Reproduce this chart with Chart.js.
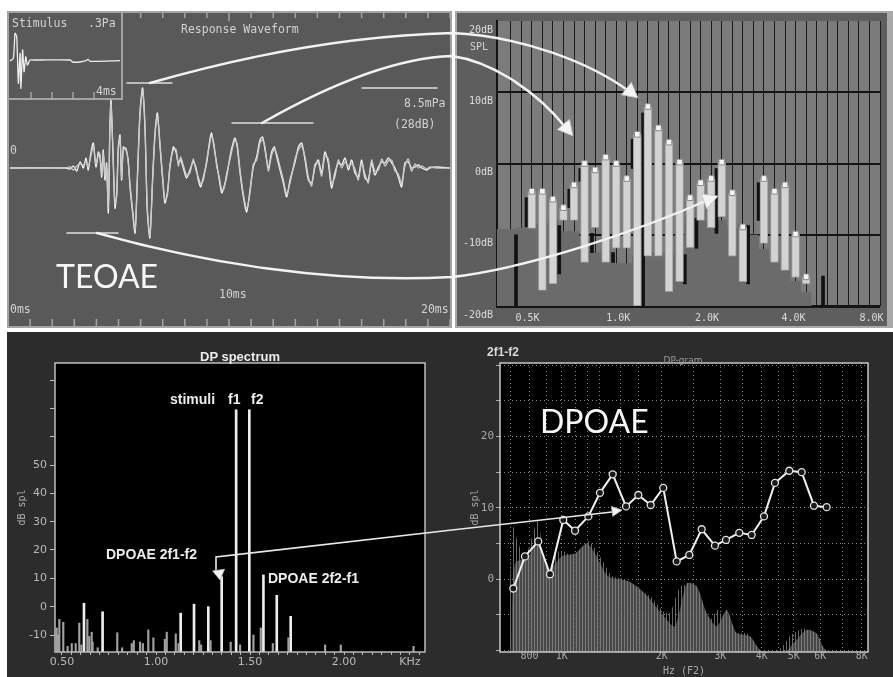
<!DOCTYPE html>
<html>
<head>
<meta charset="utf-8">
<title>TEOAE / DPOAE</title>
<script src="https://cdn.jsdelivr.net/npm/chart.js@4.4.1/dist/chart.umd.min.js"></script>
<style>
  html, body { margin: 0; padding: 0; background: #fff; }
  #page { position: relative; width: 893px; height: 677px; overflow: hidden; background: #fff; }
  .panel { position: absolute; }
  .panel canvas { position: absolute; left: 0; top: 0; }
  .frame { position: absolute; left: 0; top: 0; right: 0; bottom: 0; box-sizing: border-box; pointer-events: none; }
  .lbl { position: absolute; white-space: nowrap; line-height: 1; transform: translate(0, -50%); }
  .ctr { transform: translate(-50%, -50%); }
  .mono { font-family: "DejaVu Sans Mono", monospace; font-size: 11.5px; color: #d2d2d2; }
  .big { font-family: Lato, "Open Sans", sans-serif; font-size: 32px; color: #f6f6f6; }
  .bold { font-family: "Liberation Sans", Arial, sans-serif; font-weight: bold; font-size: 14px; color: #ececec; }
  #overlay { position: absolute; left: 0; top: 0; pointer-events: none; }
</style>
</head>
<body>
<div id="page">
  <!-- top left: TEOAE waveform -->
  <div class="panel" style="left:7px;top:11px;width:445px;height:317px;background:#595959;">
    <canvas id="waveChart" width="445" height="317"></canvas>
    <div class="frame" style="border:2px solid #a4a4a4;"></div>
  </div>
  <div class="panel" style="left:7px;top:11px;width:116px;height:89px;background:#595959;">
    <canvas id="stimChart" width="116" height="89"></canvas>
    <div class="frame" style="border:2px solid #a4a4a4;"></div>
  </div>
  <div class="lbl mono" style="left:12px;top:24px;">Stimulus</div>
  <div class="lbl mono" style="left:88px;top:24px;">.3Pa</div>
  <div class="lbl mono" style="left:96px;top:92px;">4ms</div>
  <div class="lbl mono" style="left:181px;top:30px;">Response Waveform</div>
  <div class="lbl mono" style="left:404px;top:104px;">8.5mPa</div>
  <div class="lbl mono" style="left:394px;top:125px;">(28dB)</div>
  <div class="lbl mono" style="left:10px;top:151px;">0</div>
  <div class="lbl mono" style="left:10px;top:310px;">0ms</div>
  <div class="lbl mono" style="left:219px;top:295px;">10ms</div>
  <div class="lbl mono" style="left:421px;top:310px;">20ms</div>
  <div class="lbl big" style="left:56px;top:276px;">TEOAE</div>

  <!-- top right: band spectrum -->
  <div class="panel" style="left:455px;top:11px;width:438px;height:317px;background:#5e5e5e;">
    <canvas id="bandChart" width="438" height="317"></canvas>
    <div class="frame" style="border:2px solid #a8a8a8;border-right-width:6px;"></div>
  </div>
  <div class="lbl mono" style="left:470px;top:47px;font-size:10px;">SPL</div>

  <!-- bottom row -->
  <div class="panel" style="left:7px;top:332px;width:886px;height:345px;background:#2c2c2c;"></div>
  <div class="panel" style="left:7px;top:333px;width:443px;height:344px;">
    <canvas id="spectrumChart" width="443" height="344"></canvas>
  </div>
  <div class="panel" style="left:450px;top:333px;width:443px;height:344px;">
    <canvas id="gramChart" width="443" height="344"></canvas>
  </div>
  <div class="lbl bold ctr" style="left:240px;top:356px;font-size:13px;">DP spectrum</div>
  <div class="lbl bold" style="left:170px;top:399px;">stimuli</div>
  <div class="lbl bold" style="left:228px;top:399px;">f1</div>
  <div class="lbl bold" style="left:251px;top:399px;">f2</div>
  <div class="lbl bold" style="left:106px;top:554px;">DPOAE 2f1-f2</div>
  <div class="lbl bold" style="left:268px;top:578px;">DPOAE 2f2-f1</div>
  <div class="lbl bold" style="left:487px;top:352px;font-size:12px;color:#d8d8d8;">2f1-f2</div>
  <div class="lbl ctr" style="left:683px;top:360px;font-family:'DejaVu Sans',sans-serif;font-size:9px;color:#9a9a9a;">DP-gram</div>
  <div class="lbl big" style="left:540px;top:421px;">DPOAE</div>

  <svg id="overlay" width="893" height="677"></svg>
</div>

<script>
// ---------- TEOAE response waveform (ms, relative amplitude), buffers A and B ----------
const waveTimes = [0.1, 2.6, 2.80, 2.96, 3.11, 3.26, 3.41, 3.53, 3.63, 3.74,
  3.86, 3.98, 4.09, 4.16, 4.24, 4.31, 4.39, 4.46, 4.54, 4.61,
  4.66, 4.74, 4.84, 4.92, 4.99, 5.07, 5.14, 5.22, 5.34, 5.44,
  5.52, 5.64, 5.75, 5.85, 5.97, 6.09, 6.20, 6.30, 6.42, 6.54,
  6.65, 6.76, 6.88, 7.00, 7.10, 7.21, 7.33, 7.48, 7.60, 7.71,
  7.81, 7.93, 8.08, 8.23, 8.38, 8.50, 8.61, 8.72, 8.84, 8.99,
  9.11, 9.21, 9.32, 9.44, 9.56, 9.67, 9.77, 9.89, 10.04, 10.16,
  10.27, 10.37, 10.50, 10.65, 10.80, 10.95, 11.10, 11.25, 11.40, 11.52,
  11.63, 11.78, 11.93, 12.05, 12.16, 12.31, 12.46, 12.61, 12.76, 12.99,
  13.14, 13.29, 13.44, 13.59, 13.74, 13.89, 14.04, 14.19, 14.34, 14.49,
  14.64, 14.79, 14.95, 15.10, 15.25, 15.40, 15.55, 15.70, 15.85, 16.00,
  16.15, 16.30, 16.45, 16.60, 16.76, 16.91, 17.06, 17.21, 17.36, 17.51,
  17.66, 17.81, 17.96, 18.11, 18.26, 18.41, 18.57, 18.72, 18.94, 19.09,
  19.39, 20.0];
const waveA = [0, 0, -1, 2, -3, 6, 0, 10, -2, 14,
  25, 1, 16, 11, -9, 18, -12, 5, -45, 41,
  68, 21, -40, -25, 21, 33, -12, 21, 18, 8,
  -19, -45, -65, -12, 55, 80, 38, -42, -70, -12,
  35, 55, 21, -12, -35, -25, 1, 21, 16, 5,
  8, 0, -10, -2, 6, 1, -12, -19, -9, 5,
  25, 35, 21, 5, -12, -25, -19, -9, 11, 23,
  30, 21, -5, -29, -44, -22, 1, 11, 28, 31,
  18, 0, 16, 21, 11, -2, -15, -29, -12, 6,
  21, 25, 8, -12, -15, 1, 8, -5, 16, 5,
  -20, -5, 5, 3, 10, -2, 8, -5, -9, 8,
  -10, -12, 5, -7, 1, 6, 5, 10, 5, 0,
  -9, -19, 5, 6, 0, 1, 3, 0, -2, 0,
  1, 0];
const waveB = [0, 0, 1, -2, 2, 4, 3, 7, 1, 11,
  22, 4, 13, 14, -6, 15, -8, 2, -40, 38,
  64, 24, -36, -28, 18, 30, -9, 18, 20, 5,
  -16, -42, -62, -15, 52, 77, 41, -38, -68, -15,
  32, 52, 24, -9, -32, -28, 4, 18, 19, 2,
  11, 3, -7, -5, 9, -2, -9, -16, -12, 8,
  22, 32, 24, 2, -9, -22, -21, -6, 8, 20,
  28, 24, -2, -26, -40, -25, 4, 8, 25, 28,
  21, -3, 13, 18, 14, 1, -12, -26, -15, 9,
  18, 22, 11, -9, -18, 4, 5, -8, 12, 9,
  -16, -9, 8, 0, 6, 2, 4, -1, -12, 5,
  -6, -15, 8, -3, -2, 9, 2, 7, 8, -3,
  -6, -15, 2, 9, -3, 4, 0, 2, -1, 1,
  0, 0];
const msTicks = [0, 1, 2, 3, 4, 5, 6, 7, 8, 9, 10, 11, 12, 13, 14, 15, 16, 17, 18, 19, 20];

// ---------- stimulus click ----------
const stimTimes = [0, 0.16, 0.24, 0.32, 0.40, 0.48, 0.52, 0.60, 0.67, 0.75, 0.83, 0.95, 1.11, 1.43, 2.86, 2.98, 3.33, 3.62, 3.71, 3.81, 5.24];
const stimValues = [0, 2.7, 27.7, 24.3, -22.3, 7.7, -27.3, 11, -10.7, 4.3, -4, 1, 1, 1, 1, -1, -1, 0.3, 1.7, -0.3, 0.3];
const stimTicks = [1, 2, 3, 4];

// ---------- TEOAE band spectrum (bin index, dB SPL) ----------
const bandBins = [3, 4, 5, 6, 7, 8, 9, 10, 11, 12, 13, 14, 15, 16, 17, 18, 19, 20, 21, 22, 23, 25, 26, 27, 28, 29];
const bandTop = [-3.9, -3.9, -5.0, -6.2, -3.0, 0, -0.9, 0.9, 0, -2.1, 4.1, 8.0, 5.0, 3.0, 0.2, -4.8, -2.7, -2.1, 0.2, -4.1, -8.9, -2.1, -3.9, -3.0, -9.9, -15.9];
const bandLow = [-9.1, -17.8, -16.9, -8.0, -8.0, -13.9, -9.0, -13.9, -11.9, -11.9, -20, -13.0, -13.0, -18.0, -16.6, -11.8, -8.0, -9.0, -7.5, -13.0, -16.6, -11.2, -13.9, -15.0, -16.0, -16.9];
const blackBins = [1.5, 2.5, 5.6, 6.55, 7.6, 8.7, 10.7, 12.55, 13.55, 17.5, 18.6, 20.5, 23.5, 24.5, 30.6];
const blackLow = [-20, -8.9, -15.5, -6.2, -2.5, -12.5, -13.9, -0.7, -20, -16.9, -11.9, -9.8, -16.9, -8.0, -20];
const blackHigh = [-10, -4.8, -8.7, -3.6, -0.7, -9.8, -12.5, 3.4, 7.1, -12.8, -7.7, -0.7, -8.7, -2.7, -15.8];
const noiseEdges = [-0.3, 1.5, 2.5, 4.5, 5.5, 7.5, 8.5, 9.5, 10.5, 12.5, 13.5, 16.5, 17.5, 18.5, 19.5, 21.5, 22.5, 23.5, 24.5, 25.5, 26.5, 27.5, 28.5, 29.5, 30.6, 36];
const noiseLevels = [-10, -9.2, -9, -8.5, -8, -9.5, -10.5, -12.5, -12, -14, -13, -12.5, -10, -7.5, -6.5, -8, -9, -8.5, -10, -12, -13.5, -15, -16.5, -18, -20, -20];
const bandTickPos = [2.6, 11.2, 19.6, 27.8, 35.2];
const bandTickLabels = ['0.5K', '1.0K', '2.0K', '4.0K', '8.0K'];

// ---------- DP spectrum (kHz, dB spl) ----------
const spFloor = -16;
const spSignalFreq = [0.617, 0.716, 1.131, 1.202, 1.278, 1.349, 1.426, 1.496, 1.571, 1.642, 1.716];
const spSignalLevel = [1.2, -1.8, -2.3, 0.9, 0, 10.6, 69.5, 69.5, 11.2, 4, -3.4];
const spNoiseFreq = [0.472, 0.479, 0.486, 0.507, 0.530, 0.552, 0.573, 0.592, 0.603, 0.635, 0.645, 0.658, 0.663, 0.690, 0.794, 0.820, 0.871, 0.882,
  0.915, 0.930, 0.959, 0.986, 1.047, 1.057, 1.105, 1.120, 1.230, 1.240, 1.290, 1.397, 1.447, 1.518, 1.557, 1.621, 1.704, 1.899, 1.982, 2.369];
const spNoiseLevel = [-7.5, -10, -4.5, -5.5, -14, -13, -13, -5.8, -13.5, -4.5, -10.5, -9, -12.5, -14.5, -9.2, -14.5, -13, -12,
  -12.5, -13, -8.2, -11, -11.5, -9, -9.6, -13, -12, -13.5, -12, -12.5, -13.5, -10, -7.5, -13, -11, -13.5, -13.5, -14];
const spTickText = {'0.50': '0.50', '1.00': '1.00', '1.50': '1.50', '2.00': '2.00', '2.35': 'KHz'};

// ---------- DP-gram (Hz of F2, dB spl) ----------
const gramFreq = [715, 775, 850, 922, 1011, 1097, 1203, 1304, 1424, 1562, 1701, 1853, 2022, 2219, 2422, 2639, 2894, 3123, 3425, 3732, 4065, 4386, 4843, 5278, 5748, 6276];
const gramLevel = [-1.3, 3.2, 5.3, 0.7, 8.3, 6.8, 8.8, 12.1, 14.7, 10.2, 11.8, 10.4, 12.8, 2.5, 3.4, 7.0, 4.7, 5.5, 6.5, 6.2, 8.8, 13.5, 15.2, 15.0, 10.3, 10.1];
const noiseHiFreq = [690, 712, 740, 775, 815, 847, 890, 922, 960, 1010, 1100, 1200, 1250, 1340, 1420, 1550, 1700, 1850, 2020, 2120,
  2280, 2500, 2600, 2750, 2950, 3150, 3380, 3620, 3860, 4100, 4400, 4700, 4900, 5400, 5850, 6300, 6500];
const noiseHiLevel = [-10.2, 7.4, 5.0, 3.2, 6.0, 8.3, 2.3, 1.3, 3.7, 3.9, 3.2, 5.3, 4.6, 2.3, 0.4, 0, -1.5, -2.4, -4.5, -4.7,
  -1.0, -1.0, -3.4, -6.2, -4.3, -6.7, -7.6, -7.6, -9.9, -10.2, -10.2, -9, -7.8, -6.9, -8.5, -10.1, -10.2];
const noiseLoFreq = [705, 723, 793, 850, 911, 1000, 1097, 1190, 1260, 1380, 1590, 1780, 2000, 2190, 2380,
  2550, 2730, 2930, 3140, 3360, 3690, 3950, 4200, 4700, 4980, 5460, 5860, 6130, 6300];
const noiseLoLevel = [-10.2, 2.2, 3.2, 5.5, 1.3, 3.2, 3.6, 5.0, 3.6, 0.4, -0.3, -2.0, -4.8, -6.6, -0.6,
  -1.0, -4.7, -6.6, -4.3, -7.5, -8.0, -9.9, -10.2, -10.2, -9.0, -7.1, -7.6, -9.5, -10.2];
const gramGrid = [700, 800, 900, 1000, 1100, 1200, 1300, 1500, 1700, 2000, 2500, 3000, 3500, 4000, 4500, 5000, 6000, 7000, 8000];
const gramTickText = {800: '800', 1000: '1K', 2000: '2K', 3000: '3K', 4000: '4K', 5000: '5K', 6000: '6K', 8000: '8K'};

const pts = (xs, ys) => xs.map((x, i) => ({x: x, y: ys[i]}));
const ranges = (xs, lo, hi) => xs.map((x, i) => ({x: x, y: [lo[i], hi[i]]}));

// plot background + frame
const plotBg = {
  id: 'plotBg',
  beforeDraw(chart, args, o) {
    if (!o.color) return;
    const {ctx, chartArea: a} = chart;
    ctx.save();
    ctx.fillStyle = o.color;
    ctx.fillRect(a.left, a.top, a.width, a.height);
    ctx.restore();
  },
  afterDraw(chart, args, o) {
    if (!o.frame) return;
    const {ctx, chartArea: a} = chart;
    ctx.save();
    ctx.strokeStyle = o.frame;
    ctx.lineWidth = 1.5;
    ctx.strokeRect(a.left, a.top, a.width, a.height);
    ctx.restore();
  }
};

// little tick marks along the inside of the frame
const edgeTicks = {
  id: 'edgeTicks',
  afterDatasetsDraw(chart, args, o) {
    const {ctx, chartArea: a} = chart;
    const x = chart.scales.x;
    ctx.save();
    ctx.strokeStyle = o.color;
    ctx.lineWidth = 1.5;
    o.values.forEach(v => {
      const px = x.getPixelForValue(v);
      ctx.beginPath();
      if (o.bottom) { ctx.moveTo(px, a.bottom - 2); ctx.lineTo(px, a.bottom - 2 - o.bottom); }
      if (o.top) { ctx.moveTo(px, a.top + 2); ctx.lineTo(px, a.top + 2 + (v === 10 ? o.top + 3 : o.top)); }
      ctx.stroke();
    });
    ctx.restore();
  }
};

const base = {
  responsive: false,
  animation: false,
  events: []
};
const quiet = {legend: {display: false}, tooltip: {enabled: false}};

// TEOAE waveform
new Chart(document.getElementById('waveChart'), {
  type: 'line',
  data: {
    datasets: [
      {data: pts(waveTimes, waveB), borderColor: '#c9c9c9', borderWidth: 1.3, pointRadius: 0, tension: 0.25},
      {data: pts(waveTimes, waveA), borderColor: '#f4f4f4', borderWidth: 1.3, pointRadius: 0, tension: 0.25}
    ]
  },
  options: Object.assign({}, base, {
    layout: {padding: 0},
    plugins: Object.assign({}, quiet, {edgeTicks: {values: msTicks, top: 5, bottom: 7, color: '#a4a4a4'}}),
    scales: {
      x: {type: 'linear', display: false, min: -0.045, max: 20.09},
      y: {display: false, min: -160, max: 157}
    }
  }),
  plugins: [edgeTicks]
});

// stimulus
new Chart(document.getElementById('stimChart'), {
  type: 'line',
  data: {datasets: [{data: pts(stimTimes, stimValues), borderColor: '#eeeeee', borderWidth: 1.3, pointRadius: 0, tension: 0.2}]},
  options: Object.assign({}, base, {
    layout: {padding: 0},
    plugins: Object.assign({}, quiet, {edgeTicks: {values: stimTicks, bottom: 6, color: '#a4a4a4'}}),
    scales: {
      x: {type: 'linear', display: false, min: -0.143, max: 5.381},
      y: {display: false, min: -39, max: 50}
    }
  }),
  plugins: [edgeTicks]
});

// band spectrum
const monoTick = {family: 'DejaVu Sans Mono', size: 10};
new Chart(document.getElementById('bandChart'), {
  type: 'bar',
  data: {
    datasets: [
      {type: 'line', data: pts(noiseEdges, noiseLevels), stepped: 'after', fill: 'start', backgroundColor: '#6b6b6b', borderWidth: 0, pointRadius: 0, order: 4},
      {data: ranges(blackBins, blackLow, blackHigh), backgroundColor: '#111111', barThickness: 3, grouped: false, order: 3},
      {data: ranges(bandBins, bandLow, bandTop), backgroundColor: '#d3d3d3', borderColor: '#9a9a9a', borderWidth: 1, borderSkipped: false, barThickness: 8, grouped: false, order: 2},
      {type: 'line', data: pts(bandBins, bandTop), showLine: false, pointStyle: 'rect', pointRadius: 4, pointBackgroundColor: '#f4f4f4', pointBorderColor: '#8a8a8a', pointBorderWidth: 1, order: 1}
    ]
  },
  options: Object.assign({}, base, {
    layout: {padding: {top: 6, right: 13, left: 0, bottom: 0}},
    plugins: Object.assign({}, quiet, {plotBg: {color: '#7b7b7b'}}),
    scales: {
      x: {type: 'linear', offset: false, min: -0.3, max: 36,
        ticks: {display: false, stepSize: 1},
        grid: {offset: false, color: '#1c1c1c', drawTicks: false},
        border: {display: false},
        afterFit: s => { s.height = 0; }},
      x2: {type: 'linear', position: 'bottom', offset: false, min: -0.3, max: 36,
        grid: {display: false, drawTicks: false, offset: false}, border: {display: false},
        afterBuildTicks: s => { s.ticks = bandTickPos.map(v => ({value: v})); },
        ticks: {autoSkip: false, maxRotation: 0, padding: 6, color: '#dcdcdc', font: monoTick,
          callback: (v, i) => bandTickLabels[i]},
        afterFit: s => { s.height = 22; }},
      y: {min: -20, max: 20,
        ticks: {stepSize: 10, padding: 4, labelOffset: 9, color: '#dcdcdc', font: monoTick, callback: v => v + 'dB'},
        grid: {color: '#141414', drawTicks: false,
          lineWidth: c => (c.tick && c.tick.value === 20) ? 0 : ((c.tick && c.tick.value === -20) ? 3 : 2)},
        border: {color: '#141414', width: 2},
        afterFit: s => { s.width = 42; }}
    }
  }),
  plugins: [plotBg]
});

// DP spectrum
new Chart(document.getElementById('spectrumChart'), {
  type: 'bar',
  data: {
    datasets: [
      {data: pts(spNoiseFreq, spNoiseLevel), backgroundColor: '#a0a0a0', barThickness: 1.5, grouped: false, base: spFloor},
      {data: pts(spSignalFreq, spSignalLevel), backgroundColor: '#ededed', barThickness: 2, grouped: false, base: spFloor}
    ]
  },
  options: Object.assign({}, base, {
    layout: {padding: {top: 30, right: 25, left: 0, bottom: 0}},
    plugins: Object.assign({}, quiet, {plotBg: {color: '#000000', frame: '#bdbdbd'}}),
    scales: {
      x: {type: 'linear', offset: false, min: 0.463, max: 2.43,
        ticks: {stepSize: 0.05, includeBounds: false, autoSkip: false, maxRotation: 0, padding: 1, color: '#b8b8b8',
          font: {family: 'DejaVu Sans', size: 11}, callback: v => spTickText[v.toFixed(2)] || ''},
        grid: {offset: false, drawOnChartArea: false, tickLength: 3, color: '#bdbdbd'},
        border: {display: false},
        afterFit: s => { s.height = 25; }},
      y: {min: -16, max: 86,
        ticks: {stepSize: 10, includeBounds: false, padding: 3, color: '#b8b8b8', font: {family: 'DejaVu Sans', size: 11},
          callback: v => (v >= -10 && v <= 50) ? v : ''},
        title: {display: true, text: 'dB spl', color: '#b0b0b0', font: {family: 'DejaVu Sans Mono', size: 10}, padding: {top: 9, bottom: 0}},
        grid: {drawOnChartArea: false, tickLength: 5, color: '#bdbdbd'},
        border: {display: false},
        afterFit: s => { s.width = 48; }}
    }
  }),
  plugins: [plotBg]
});

// DP-gram
const gramCanvas = document.getElementById('gramChart');
function stripes(bg, fg, step) {
  const c = document.createElement('canvas');
  c.width = step; c.height = 4;
  const g = c.getContext('2d');
  if (bg) { g.fillStyle = bg; g.fillRect(0, 0, step, 4); }
  g.fillStyle = fg;
  g.fillRect(0, 0, 1, 4);
  return gramCanvas.getContext('2d').createPattern(c, 'repeat');
}
const dotted = {color: 'rgba(255,255,255,0.5)'};
new Chart(gramCanvas, {
  type: 'line',
  data: {
    datasets: [
      {data: pts(noiseHiFreq, noiseHiLevel), fill: 'start', backgroundColor: stripes(null, '#6a6a6a', 3), borderWidth: 0, pointRadius: 0, tension: 0.25, order: 3},
      {data: pts(noiseLoFreq, noiseLoLevel), fill: 'start', backgroundColor: stripes('rgba(85,85,85,0.85)', '#7a7a7a', 3), borderWidth: 0, pointRadius: 0, tension: 0.25, order: 2},
      {data: pts(gramFreq, gramLevel), borderColor: '#f0f0f0', borderWidth: 2, pointRadius: 3.5, pointBackgroundColor: '#1a1a1a',
        pointBorderColor: '#e4e4e4', pointBorderWidth: 1.3, tension: 0, order: 1}
    ]
  },
  options: Object.assign({}, base, {
    layout: {padding: {top: 30, right: 25, left: 0, bottom: 0}},
    plugins: Object.assign({}, quiet, {plotBg: {color: '#000000', frame: '#c8c8c8'}}),
    scales: {
      x: {type: 'logarithmic', min: 652, max: 8360,
        afterBuildTicks: s => { s.ticks = gramGrid.map(v => ({value: v})); },
        ticks: {autoSkip: false, maxRotation: 0, padding: -2, color: '#a8a8a8', font: {family: 'DejaVu Sans Mono', size: 10},
          callback: v => gramTickText[v] || ''},
        grid: {color: dotted.color, drawTicks: false},
        border: {display: false, dash: [1, 3]},
        title: {display: true, text: 'Hz (F2)', color: '#a8a8a8', font: {family: 'DejaVu Sans Mono', size: 10}, padding: {top: 8, bottom: 0}},
        afterFit: s => { s.height = 25; }},
      y: {min: -10.2, max: 30.3,
        ticks: {stepSize: 5, includeBounds: false, padding: 2, color: '#a8a8a8', font: {family: 'DejaVu Sans Mono', size: 11},
          callback: v => (v === 0 || v === 10 || v === 20) ? v : ''},
        grid: {color: dotted.color, tickLength: 4, tickColor: '#a8a8a8', tickBorderDash: []},
        border: {display: false, dash: [1, 3]},
        title: {display: true, text: 'dB spl', color: '#a8a8a8', font: {family: 'DejaVu Sans Mono', size: 10}, padding: {top: 19, bottom: 0}},
        afterFit: s => { s.width = 50; }}
    }
  }),
  plugins: [plotBg]
});

// ---------- annotation arrows ----------
const NS = 'http://www.w3.org/2000/svg';
const svg = document.getElementById('overlay');
function addPath(d, w, color) {
  const p = document.createElementNS(NS, 'path');
  p.setAttribute('d', d);
  p.setAttribute('fill', 'none');
  p.setAttribute('stroke', color);
  p.setAttribute('stroke-width', w);
  p.setAttribute('stroke-linecap', 'round');
  svg.appendChild(p);
}
function addHead(tip, from, len, half) {
  const dx = tip[0] - from[0], dy = tip[1] - from[1];
  const L = Math.hypot(dx, dy), ux = dx / L, uy = dy / L;
  const bx = tip[0] - ux * len, by = tip[1] - uy * len;
  const poly = document.createElementNS(NS, 'polygon');
  poly.setAttribute('points', [tip, [bx - uy * half, by + ux * half], [bx + uy * half, by - ux * half]].map(p => p.join(',')).join(' '));
  poly.setAttribute('fill', '#f4f4f4');
  poly.setAttribute('stroke', '#bdbdbd');
  poly.setAttribute('stroke-width', 0.8);
  svg.appendChild(poly);
}
// marker bars
addPath('M127,83 L172,83', 1.5, '#dedede');
addPath('M232,123 L313,123', 1.5, '#dedede');
addPath('M67,233 L118,233', 1.5, '#dedede');
addPath('M362,88 L437,88', 1.5, '#dedede');
// curved arrows
addPath('M150,83 C230,60 340,36 452,33 C520,36 590,62 630,92', 2.4, '#f2f2f2');
addHead([638, 98], [622, 85], 15, 8);
addPath('M262,123 C320,90 390,58 452,56 C495,62 540,95 566,128', 2.4, '#f2f2f2');
addHead([573, 136], [558, 118], 15, 8);
addPath('M97,233 C200,262 330,284 452,277 C530,268 640,230 708,200', 2.4, '#f2f2f2');
addHead([718, 196], [700, 203], 15, 8);
// DPOAE link
addPath('M216,572 L216,557 L452,530 L612,512', 1.6, '#e8e8e8');
addHead([622, 510], [608, 512], 10, 5);
addHead([220, 580], [218, 566], 10, 6);
</script>
</body>
</html>
